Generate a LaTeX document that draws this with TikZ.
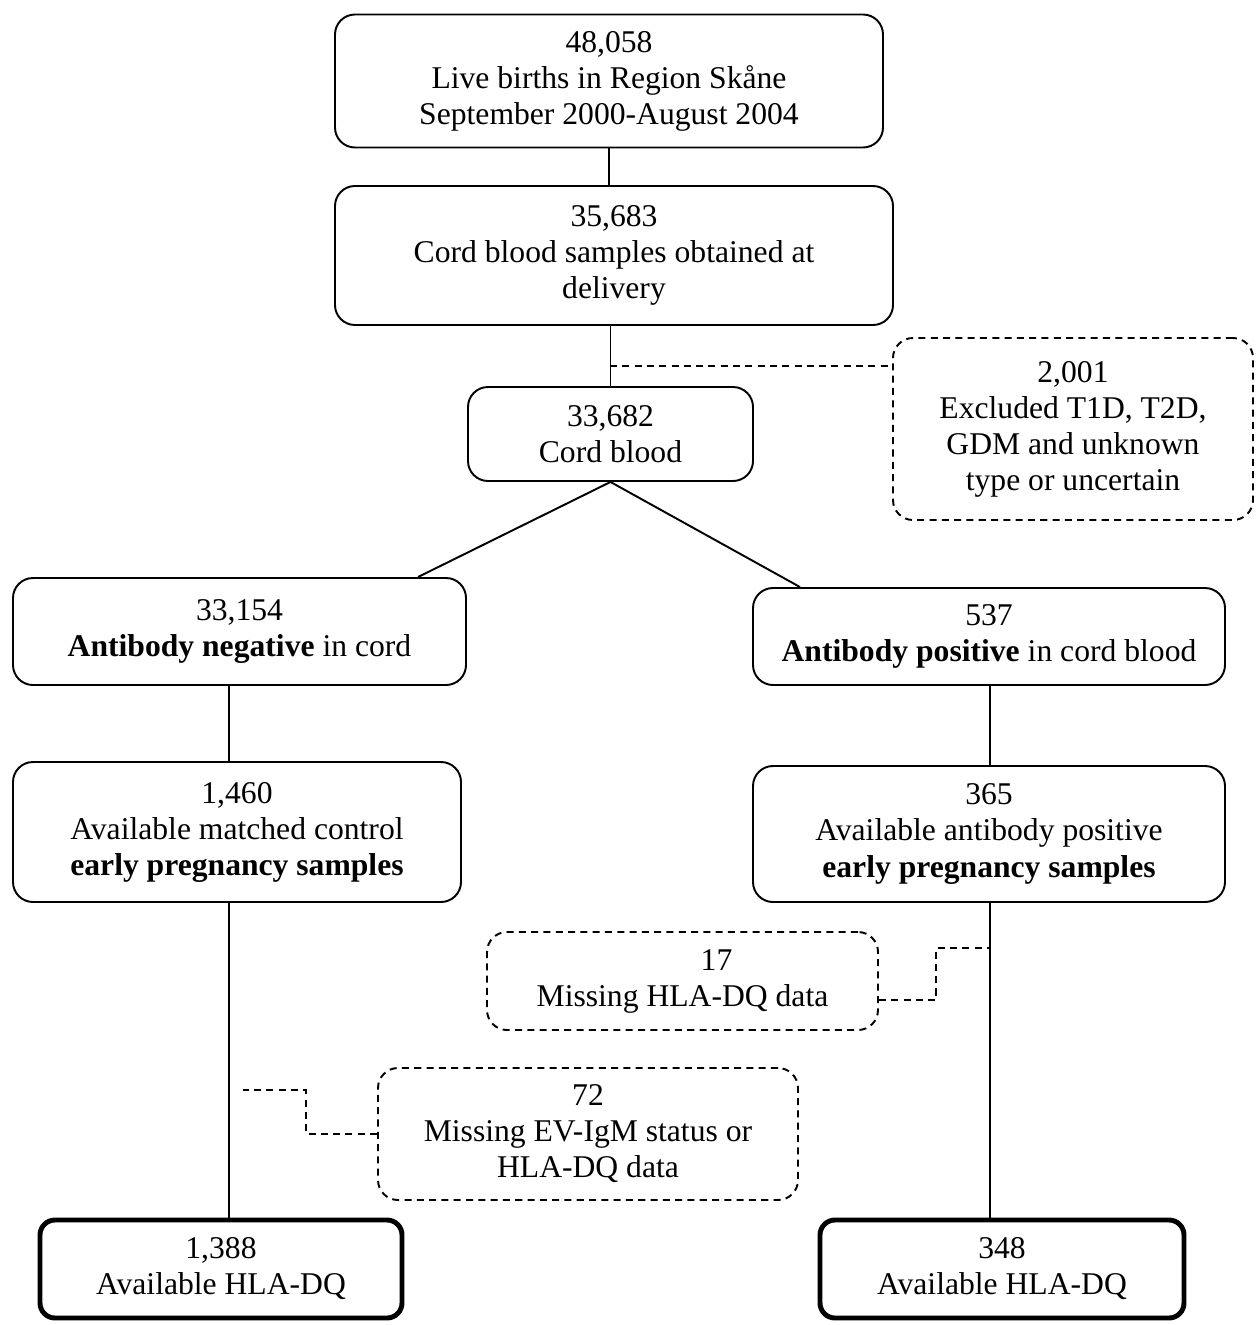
\documentclass[tikz,border=0pt]{standalone}
\usepackage{fontspec}
\setmainfont{Liberation Serif}
\usepackage{tikz}
\tikzset{>=latex}

\begin{document}
\begin{tikzpicture}[
  box/.style={draw,line width=1.1pt,rounded corners=0.4cm,align=center,font=\fontsize{18}{20.5}\selectfont,inner sep=2pt},
  dbox/.style={box,dashed,dash pattern=on 4pt off 3pt},
  fbox/.style={box,line width=2.8pt,rounded corners=0.3cm},
  line width=1.1pt]
\useasboundingbox (0,0) rectangle (25.12,-26.5);
\node [box,minimum width=10.96cm,minimum height=2.66cm] (births) at (12.18,-1.62) {48,058\\Live births in Region Skåne\\September 2000-August 2004};
\node [box,minimum width=11.16cm,minimum height=2.78cm] (cord) at (12.28,-5.11) {35,683\\Cord blood samples obtained at\\delivery};
\node [box,minimum width=5.7cm,minimum height=1.88cm] (cordb) at (12.21,-8.68) {33,682\\Cord blood};
\node [dbox,minimum width=7.2cm,minimum height=3.64cm] (excl) at (21.46,-8.58) {2,001\\Excluded T1D, T2D,\\GDM and unknown\\type or uncertain};
\node [box,minimum width=9.06cm,minimum height=2.14cm] (neg) at (4.79,-12.63) {33,154\\\textbf{Antibody negative} in cord};
\node [box,minimum width=9.44cm,minimum height=1.94cm] (pos) at (19.78,-12.73) {537\\\textbf{Antibody positive} in cord blood};
\node [box,minimum width=8.96cm,minimum height=2.8cm] (ctl) at (4.74,-16.64) {1,460\\Available matched control\\\textbf{early pregnancy samples}};
\node [box,minimum width=9.44cm,minimum height=2.72cm] (abp) at (19.78,-16.68) {365\\Available antibody positive\\\textbf{early pregnancy samples}};
\node [dbox,minimum width=7.82cm,minimum height=1.96cm] (miss17) at (13.65,-19.62) {\hspace*{1.36cm}17\\Missing HLA-DQ data};
\node [dbox,minimum width=8.4cm,minimum height=2.64cm] (miss72) at (11.76,-22.68) {72\\Missing EV-IgM status or\\HLA-DQ data};
\node [fbox,minimum width=7.24cm,minimum height=1.96cm] (hlaL) at (4.42,-25.38) {1,388\\Available HLA-DQ};
\node [fbox,minimum width=7.28cm,minimum height=1.96cm] (hlaR) at (20.04,-25.38) {348\\Available HLA-DQ};
% columns
\coordinate (lx) at (4.58,0);
\coordinate (rx) at (19.8,0);
\coordinate (br) at (12.2,-7.32);
\coordinate (d72) at (4.86,-21.8);
\draw (births.south) -- (births.south |- cord.north);
\draw (cordb.north) -- (cordb.north |- cord.south);
\draw [dashed,dash pattern=on 4pt off 3pt] (br) -- (br -| excl.west);
\draw ([xshift=3.57cm]neg.north) -- (cordb.south) -- ([xshift=-3.78cm]pos.north);
\draw (lx |- neg.south) -- (lx |- ctl.north);
\draw (lx |- ctl.south) -- (lx |- hlaL.north);
\draw (rx |- pos.south) -- (rx |- abp.north);
\draw (rx |- abp.south) -- (rx |- hlaR.north);
\draw [dashed,dash pattern=on 4pt off 3pt] ([yshift=-0.38cm]miss17.east) -- ++(1.14,0) |- (rx |- 0,-18.96);
\draw [dashed,dash pattern=on 4pt off 3pt] (miss72.west) -- ++(-1.42,0) |- (d72);
\end{tikzpicture}
\end{document}
